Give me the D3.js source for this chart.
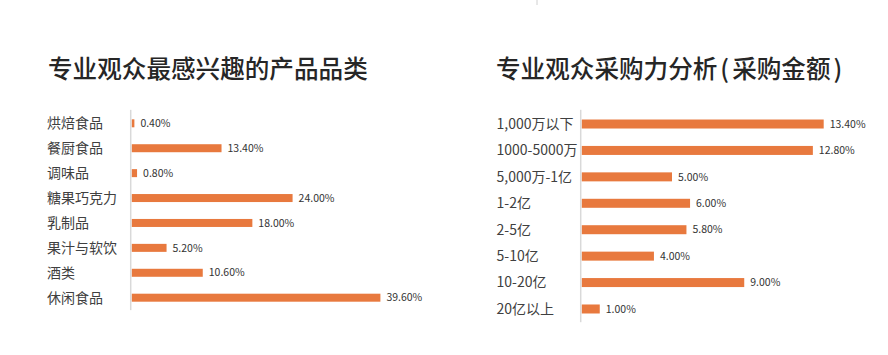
<!DOCTYPE html>
<html><head><meta charset="utf-8">
<script src="https://cdn.jsdelivr.net/npm/d3@7"></script>
<style>body{margin:0;background:#fff}svg{display:block}</style>
</head><body>
<script>
const leftTitle = ["专业观众最感兴趣的产品品类"];
const leftCategories = ["烘焙食品","餐厨食品","调味品","糖果巧克力","乳制品","果汁与软饮","酒类","休闲食品"];
const leftValues = [0.4,13.4,0.8,24.0,18.0,5.2,10.6,39.6];
const rightTitle = ["专业观众采购力分析","(","采购金额",")"];
const rightCategories = ["1,000万以下","1000-5000万","5,000万-1亿","1-2亿","2-5亿","5-10亿","10-20亿","20亿以上"];
const rightValues = [13.4,12.8,5.0,6.0,5.8,4.0,9.0,1.0];

const W = 888, H = 355;
const svg = d3.select("body").append("svg").attr("width", W).attr("height", H);
const font = "'Noto Sans CJK SC','Noto Sans',sans-serif";
const barColor = "#E8793E";

svg.append("line").attr("x1",537).attr("x2",537).attr("y1",0).attr("y2",5)
  .attr("stroke","#d0d0d0").attr("stroke-width",1);

function panel(o){
  const g = svg.append("g");
  const t = g.append("text").attr("x", o.titleX).attr("y", 78)
    .attr("font-family", font).attr("font-size", 24.6).attr("font-weight", 500)
    .attr("fill", "#262626");
  t.selectAll("tspan").data(o.title).join("tspan")
    .attr("dx", (d,i) => i === 0 ? 0 : 3).text(d => d);
  const y = d3.scaleBand().domain(o.cats).range([o.y0, o.y1]).paddingInner(0).paddingOuter(0);
  const x = d3.scaleLinear().domain([0, o.xmax]).range([0, o.xlen]).clamp(true);
  const data = o.cats.map((c,i)=>({c, v:o.vals[i]}));
  g.selectAll("rect").data(data).join("rect")
    .attr("x", o.axisX + 1)
    .attr("y", d => y(d.c) + y.bandwidth()/2 - o.bh/2)
    .attr("width", d => x(d.v))
    .attr("height", o.bh)
    .attr("fill", barColor);
  g.append("line").attr("x1", o.axisX).attr("x2", o.axisX)
    .attr("y1", o.y0 - 1).attr("y2", o.y1)
    .attr("stroke", "#d9d9d9").attr("stroke-width", 1.5);
  g.selectAll("text.cat").data(data).join("text").attr("class","cat")
    .attr("x", o.labelX).attr("y", d => y(d.c) + y.bandwidth()/2)
    .attr("dy", "0.35em").text(d => d.c)
    .attr("font-family", font).attr("font-size", 14).attr("fill", "#404040");
  g.selectAll("text.val").data(data).join("text").attr("class","val")
    .attr("x", d => o.axisX + 1 + x(d.v) + 6).attr("y", d => y(d.c) + y.bandwidth()/2)
    .attr("dy", "0.35em").text(d => d.v.toFixed(2) + "%")
    .attr("font-family", font).attr("font-size", 10.5).attr("fill", "#333");
}

panel({title: leftTitle, titleX: 48, cats: leftCategories, vals: leftValues,
  y0: 110.85, y1: 310.15, axisX: 130.7, xmax: 37.1, xlen: 248.7, bh: 8, labelX: 47});
panel({title: rightTitle, titleX: 496, cats: rightCategories, vals: rightValues,
  y0: 110.8, y1: 322.2, axisX: 580.7, xmax: 13.4, xlen: 242, bh: 9, labelX: 496.5});
</script>
</body></html>
